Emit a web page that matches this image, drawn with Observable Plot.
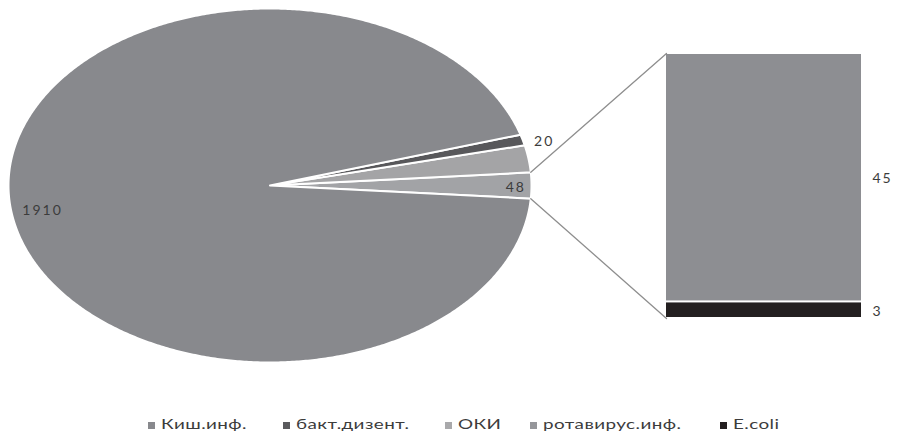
<!DOCTYPE html>
<html><head><meta charset="utf-8">
<script src="https://cdn.jsdelivr.net/npm/d3@7"></script>
<script src="https://cdn.jsdelivr.net/npm/@observablehq/plot@0.6"></script>
<style>
body{margin:0;background:#fff;font-family:Lato,"Open Sans",sans-serif;}
#wrap{position:relative;width:897px;height:433px;overflow:hidden;}
#chart{position:absolute;left:0;top:0;}
#chart text{letter-spacing:2px;}
.sw{position:absolute;width:7px;height:7px;top:422px;}
.lt{position:absolute;top:416px;font-size:13px;line-height:17px;color:#3c3c3c;white-space:nowrap;transform:scaleX(1.45);transform-origin:left center;letter-spacing:0.3px;}
</style></head><body>
<div id="wrap"><div id="chart"></div><div id="legend"></div></div>
<script>
// ---- data ----
const pieCategories = ["Киш.инф.", "бакт.дизент.", "ОКИ"];
const pieValues = [1910, 20, 50];
const pieLabels = ["1910", "20", ""];
const barCategories = ["ротавирус.инф.", "E.coli"];
const barValues = [45, 3];
const legendCategories = ["Киш.инф.", "бакт.дизент.", "ОКИ", "ротавирус.инф.", "E.coli"];
const legendColors = ["#88898d", "#5a5a5d", "#a9a9ab", "#95969a", "#231f20"];
const sliceColors = ["#88898d", "#58585b", "#a4a4a6"];
const otherColor = "#a2a3a6";
const barColors = ["#8d8e92", "#231f20"];

// ---- layout ----
const W = 897, H = 408;
const cx = 269.5, cy = 185, rx = 261.5, ry = 177;
const TAU = 2 * Math.PI;
const otherSum = d3.sum(barValues);
const total = d3.sum(pieValues) + otherSum;
const otherSpan = otherSum / total * TAU;

const slices = [];
let a = -otherSpan / 2;
slices.push({name: "other", a0: a, a1: a + otherSpan, color: otherColor, label: String(otherSum), kind: "inner"});
a += otherSpan;
for (let i = pieValues.length - 1; i >= 0; i--) {
  const span = pieValues[i] / total * TAU;
  slices.push({name: pieCategories[i], a0: a, a1: a + span, color: sliceColors[i], label: pieLabels[i],
    kind: i === 0 ? "big" : "outer"});
  a += span;
}
function poly(s) {
  const pts = [[0, 0]];
  const n = Math.max(2, Math.ceil((s.a1 - s.a0) / (Math.PI / 360)));
  for (let k = 0; k <= n; k++) {
    const t = s.a0 + (s.a1 - s.a0) * k / n;
    pts.push([Math.cos(t), Math.sin(t)]);
  }
  pts.push([0, 0]);
  return pts;
}
const mid = s => (s.a0 + s.a1) / 2;
const labelPos = (s, r) => [r * Math.cos(mid(s)), r * Math.sin(mid(s))];

// bar frame (in pie units)
const bx0 = (666 - cx) / rx, bx1 = (861 - cx) / rx;
const vb0 = (cy - 318) / ry, vb1 = (cy - 53) / ry;
const vmap = v => vb0 + v / otherSum * (vb1 - vb0);
const barRows = [];
let cum = 0;
for (let i = barValues.length - 1; i >= 0; i--) {
  barRows.push({name: barCategories[i], lo: cum, hi: cum + barValues[i], value: barValues[i], color: barColors[i]});
  cum += barValues[i];
}
const other = slices[0];

const marks = [];
for (const s of slices) {
  marks.push(Plot.line(poly(s), {x: d => d[0], y: d => d[1], fill: s.color, stroke: "white", strokeWidth: 2, strokeLinejoin: "round"}));
}
marks.push(Plot.rect(barRows, {x1: () => bx0, x2: () => bx1, y1: d => vmap(d.lo), y2: d => vmap(d.hi), fill: d => d.color, insetTop: 1, insetBottom: 1}));
marks.push(Plot.line([[Math.cos(other.a1), Math.sin(other.a1)], [bx0, vmap(otherSum)]], {x: d => d[0], y: d => d[1], stroke: "#8e8e8e", strokeWidth: 1.3}));
marks.push(Plot.line([[Math.cos(other.a0), Math.sin(other.a0)], [bx0, vmap(0)]], {x: d => d[0], y: d => d[1], stroke: "#8e8e8e", strokeWidth: 1.3}));
const txt = {fontSize: 14, fontFamily: "Lato", fill: "#3c3c3c"};
const big = slices.filter(s => s.kind === "big" && s.label);
const outer = slices.filter(s => s.kind === "outer" && s.label);
const inner = slices.filter(s => s.kind === "inner" && s.label);
marks.push(Plot.text(big, {x: s => labelPos(s, 0.875)[0], y: s => labelPos(s, 0.875)[1], text: "label", dy: 8, ...txt}));
marks.push(Plot.text(outer, {x: s => labelPos(s, 1.085)[0], y: s => labelPos(s, 1.085)[1], text: "label", dy: 5, ...txt}));
marks.push(Plot.text(inner, {x: s => labelPos(s, 0.94)[0], y: s => labelPos(s, 0.94)[1], text: "label", dy: 2, ...txt}));
marks.push(Plot.text(barRows, {x: () => bx1 + 11 / rx, y: d => vmap((d.lo + d.hi) / 2), text: d => String(d.value), textAnchor: "start", dy: 1, ...txt}));

const chart = Plot.plot({
  width: W, height: H, margin: 0,
  x: {domain: [(0 - cx) / rx, (W - cx) / rx], range: [0, W], axis: null},
  y: {domain: [(cy - H) / ry, cy / ry], range: [H, 0], axis: null},
  style: {background: "white", fontFamily: "Lato"},
  marks
});
document.getElementById("chart").appendChild(chart);

// legend
const legendX = [148, 283, 445, 530, 720];
const leg = document.getElementById("legend");
legendCategories.forEach((c, i) => {
  const sw = document.createElement("div");
  sw.className = "sw"; sw.style.left = legendX[i] + "px"; sw.style.background = legendColors[i];
  const t = document.createElement("div");
  t.className = "lt"; t.style.left = (legendX[i] + 13) + "px"; t.textContent = c;
  leg.appendChild(sw); leg.appendChild(t);
});
</script>
</body></html>
